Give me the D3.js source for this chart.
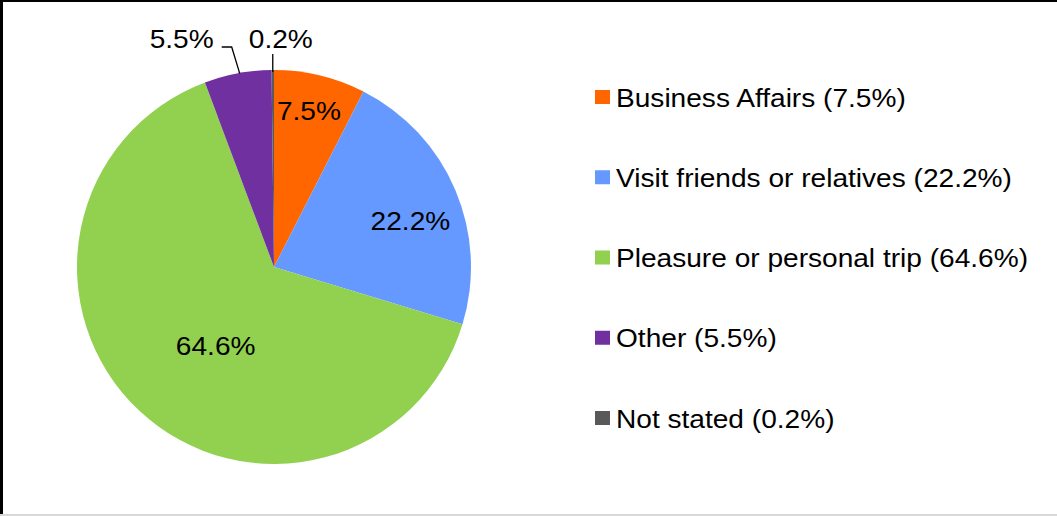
<!DOCTYPE html>
<html>
<head>
<meta charset="utf-8">
<script src="https://cdn.jsdelivr.net/npm/d3@7"></script>
<style>
  body { margin: 0; background: #fff; }
  text { font-family: "Liberation Sans", Arial, sans-serif; }
</style>
</head>
<body>
<svg id="chart" width="1057" height="516"></svg>
<script>
// purpose of trip shares (%)
const categories = ['Business Affairs', 'Visit friends or relatives', 'Pleasure or personal trip', 'Other', 'Not stated']
const values = [7.5, 22.2, 64.6, 5.5, 0.2]
const colors = ['#FF6600', '#6699FF', '#92D050', '#7030A0', '#595959']

const svg = d3.select('#chart')
const FONT = 26
const STRETCH = 1.08

// frame: black top and left, light grey bottom
svg.append('line').attr('x1', 0).attr('x2', 1057).attr('y1', 1).attr('y2', 1)
  .attr('stroke', '#000').attr('stroke-width', 2)
svg.append('line').attr('x1', 1.5).attr('x2', 1.5).attr('y1', 0).attr('y2', 516)
  .attr('stroke', '#000').attr('stroke-width', 3)
svg.append('line').attr('x1', 0).attr('x2', 1057).attr('y1', 515).attr('y2', 515)
  .attr('stroke', '#d9d9d9').attr('stroke-width', 2)

const cx = 274
const cy = 267
const r = 197

const pie = d3.pie().sort(null).value(d => d.value)
const data = pie(categories.map((c, i) => ({ name: c, value: values[i], color: colors[i] })))
const arc = d3.arc().innerRadius(0).outerRadius(r)

const g = svg.append('g').attr('transform', `translate(${cx},${cy})`)

g.selectAll('path.slice')
  .data(data)
  .join('path')
  .attr('class', 'slice')
  .attr('d', arc)
  .attr('fill', d => d.data.color)

const fmt = v => v.toFixed(1) + '%'

// widen glyphs a bit, the source renders its font slightly wider
function stretch (sel) {
  sel.each(function () {
    const w = this.getComputedTextLength()
    d3.select(this)
      .attr('textLength', w * STRETCH)
      .attr('lengthAdjust', 'spacingAndGlyphs')
  })
}

// labels inside the large slices (best-fit style placement: radius factor, angle shift)
const inPlace = [[0.81, -0.015], [0.73, 0.08], [0.5, -0.12]]
const inside = data.filter(d => d.data.value > 6)
g.selectAll('text.in')
  .data(inside)
  .join('text')
  .attr('class', 'in')
  .attr('x', (d, i) => Math.sin((d.startAngle + d.endAngle) / 2 + inPlace[i][1]) * r * inPlace[i][0])
  .attr('y', (d, i) => -Math.cos((d.startAngle + d.endAngle) / 2 + inPlace[i][1]) * r * inPlace[i][0] + 9)
  .attr('text-anchor', 'middle')
  .attr('font-size', FONT)
  .attr('fill', '#000')
  .text(d => fmt(d.data.value))
  .call(stretch)

// small slices get labels above the pie with leader lines
const small = data.filter(d => d.data.value <= 6)
const outerPt = d => {
  const a = (d.startAngle + d.endAngle) / 2
  return [Math.sin(a) * r, -Math.cos(a) * r]
}
const other = small[0]
const ns = small[1]
const po = outerPt(other)
const pn = outerPt(ns)

g.append('path')
  .attr('d', `M${po[0] + 2},${po[1]} L${po[0] - 6},${-220} L${po[0] - 16},${-220}`)
  .attr('fill', 'none').attr('stroke', '#000').attr('stroke-width', 1.3)
g.append('text')
  .attr('x', po[0] - 24).attr('y', -219)
  .attr('text-anchor', 'end')
  .attr('font-size', FONT)
  .text(fmt(other.data.value))
  .call(stretch)

g.append('path')
  .attr('d', `M${pn[0]},${pn[1] + 2} L${pn[0]},${-213}`)
  .attr('fill', 'none').attr('stroke', '#000').attr('stroke-width', 1.3)
g.append('text')
  .attr('x', pn[0] - 24).attr('y', -219)
  .attr('text-anchor', 'start')
  .attr('font-size', FONT)
  .text(fmt(ns.data.value))
  .call(stretch)

// legend
const legY = d3.scalePoint().domain(categories).range([97, 418])
const leg = svg.append('g')
  .selectAll('g')
  .data(data)
  .join('g')
  .attr('transform', d => `translate(595,${legY(d.data.name)})`)

leg.append('rect')
  .attr('x', 0).attr('y', -7)
  .attr('width', 15).attr('height', 14)
  .attr('fill', d => d.data.color)

leg.append('text')
  .attr('x', 21).attr('y', 9.5)
  .attr('font-size', FONT)
  .text(d => `${d.data.name} (${fmt(d.data.value)})`)
  .call(stretch)
</script>
</body>
</html>
